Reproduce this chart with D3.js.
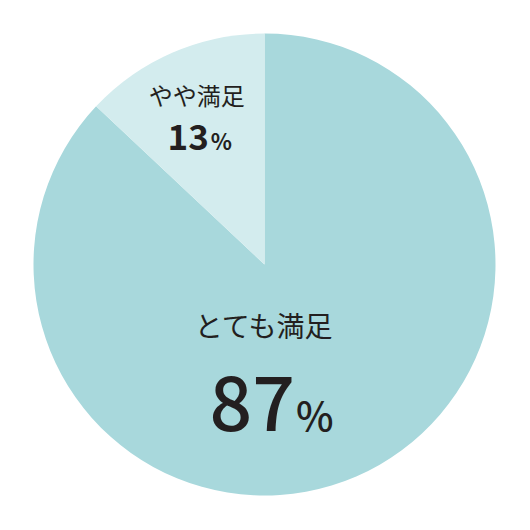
<!DOCTYPE html>
<html>
<head>
<meta charset="utf-8">
<script src="https://cdn.jsdelivr.net/npm/d3@7"></script>
<style>
body { margin:0; background:#fff; }
text { font-family: "Noto Sans CJK JP", "Noto Sans", sans-serif; fill:#231f20; }
</style>
</head>
<body>
<div id="workspace"></div>
<script>
// data
var labels = ["とても満足", "やや満足"];
var values = [87, 13];
var colors = ["#a8d8dc", "#d3ecee"];

var width = 530, height = 530;
var cx = 264.5, cy = 264.5, radius = 231;

var svg = d3.select("#workspace")
	.append("svg")
	.attr("width", width)
	.attr("height", height);

var pie = d3.pie().sort(null).value(function(d) { return d; });
var arcs = pie(values);

var arc = d3.arc().innerRadius(0).outerRadius(radius);
var g = svg.append("g").attr("transform", "translate(" + cx + "," + cy + ")");

g.selectAll("path")
	.data(arcs)
	.enter().append("path")
	.attr("d", arc)
	.attr("fill", function(d, i) { return colors[i]; });

// big slice label sits near the middle of the pie
var big = g.append("g");
big.append("text")
	.attr("x", -1).attr("y", 72)
	.attr("text-anchor", "middle")
	.attr("font-size", "28px")
	.text(labels[0]);
var bigPct = big.append("text")
	.attr("x", 7).attr("y", 166)
	.attr("text-anchor", "middle")
	.attr("font-weight", 500);
bigPct.append("tspan").attr("font-size", "75px").text(values[0]);
bigPct.append("tspan").attr("font-size", "40px").attr("dx", 1).text("%");

// small slice label, along the slice's mid angle
var labelArc = d3.arc().innerRadius(163).outerRadius(163);
var c = labelArc.centroid(arcs[1]);
var small = g.append("g").attr("transform", "translate(" + c[0] + "," + c[1] + ")");
small.append("text")
	.attr("x", -3).attr("y", -10)
	.attr("text-anchor", "middle")
	.attr("font-size", "24px")
	.text(labels[1]);
var smallPct = small.append("text")
	.attr("x", 0).attr("y", 35)
	.attr("text-anchor", "middle")
	.attr("font-weight", 600);
smallPct.append("tspan").attr("font-size", "35px").text(values[1]);
smallPct.append("tspan").attr("font-size", "22px").attr("dx", 2).text("%");
</script>
</body>
</html>
